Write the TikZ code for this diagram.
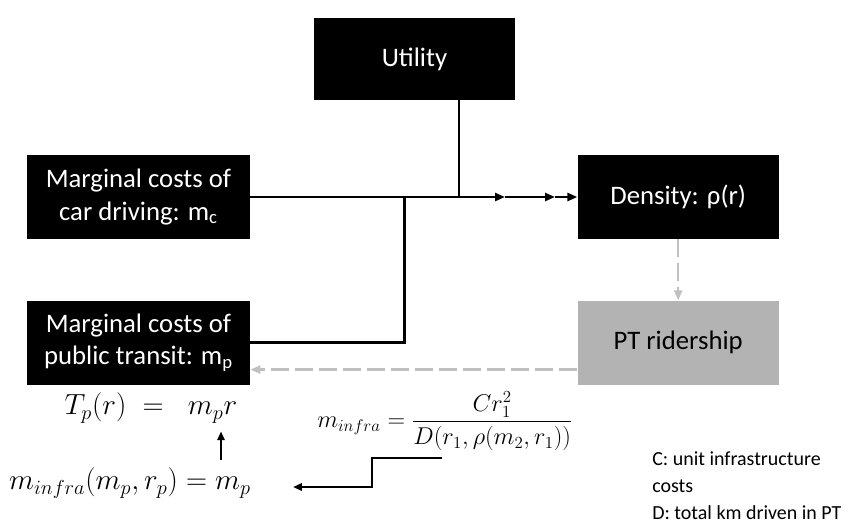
\documentclass[tikz,border=0pt]{standalone}
\usepackage[no-math]{fontspec}
\setmainfont{Carlito}
\usepackage{amsmath}
\usetikzlibrary{arrows.meta,positioning,calc}
\definecolor{ridegray}{RGB}{179,179,179}
\definecolor{dashgray}{RGB}{192,192,192}
\tikzset{
    box/.style={fill=black, text=white, minimum width=5.575cm, minimum height=2.1cm, align=center, inner sep=0pt, font=\fontsize{19}{22.8}\selectfont},
    greybox/.style={box, fill=ridegray, text=black},
    flow/.style={-{Triangle[length=2.5mm, width=2mm]}, line width=1.8pt},
    link/.style={line width=1.6pt},
    arr/.style={-{Triangle[length=2.2mm, width=1.8mm]}, line width=1.6pt},
    dashflow/.style={-{Triangle[length=2.5mm, width=2mm]}, line width=1.8pt, dashgray, dash pattern=on 4.5mm off 1.5mm},
    eq/.style={inner sep=0pt, font=\fontsize{20.7}{24}\selectfont},
    note/.style={align=left, inner sep=0pt, font=\fontsize{14.2}{19.3}\selectfont}
}

\begin{document}
\begin{tikzpicture}[x=0.025cm, y=-0.025cm, node distance=1.525cm]
            \useasboundingbox (0,0) rectangle (857,529);
            % boxes
            \node[box] (car) at (138.5,197) {Marginal costs of\\car driving: m\textsubscript{c}};
            \node[box, below=of car] (pt) {Marginal costs of\\public transit: m\textsubscript{p}};
            \node[box, right=8.175cm of car, minimum width=5.025cm] (dens) {Density: ρ(r)};
            \node[greybox, below=of dens, minimum width=5.025cm] (ride) {PT ridership};
            \node[box, minimum width=5.025cm, minimum height=2.05cm] (util) at (414.5,59) {Utility};
            
            % solid connectors
            \coordinate (jp) at (404.5,197);
            \coordinate (ju) at (459,197);
            \coordinate (a1) at (505,197);
            \coordinate (a2) at (555,197);
            \draw[flow] (car.east) -- (a1);
            \draw[flow] (a1) -- (a2);
            \draw[flow] (a2) -- (dens.west);
            \draw[link] (util.south -| ju) -- (ju);
            \draw[link] (pt.east) -| (jp);
            
            % feedback
            \draw[dashflow] (dens.south) -- (ride.north);
            \draw[dashflow] ([yshift=-0.675cm]ride.west) -- ([yshift=-0.675cm]pt.east);
            
            % equations
            \node[eq] (eqT) at (151,408) {$T_p(r) \;=\;\; m_p r$};
            \node[eq] (eqM) at (130,483) {$m_{infra}(m_p,r_p) = m_p$};
            \node[eq, font=\fontsize{17.9}{21}\selectfont] (eqF) at (445,421) {$m_{infra} = \dfrac{Cr_1^2}{D(r_1,\rho(m_2,r_1))}$};
            \coordinate (up) at (221,0);
            \draw[arr] ($(eqM.north -| up)+(0,-8)$) -- ($(eqT.south -| up)+(0,8)$);
            \coordinate (s1) at (442,458);
            \coordinate (s2) at (293,487);
            \draw[arr] (s1) -- ++(-70,0) |- (s2);
            
            \node[note, anchor=north west] (legend) at (652,451) {C: unit infrastructure\\costs\\D: total km driven in PT};
        \end{tikzpicture}
\end{document}
